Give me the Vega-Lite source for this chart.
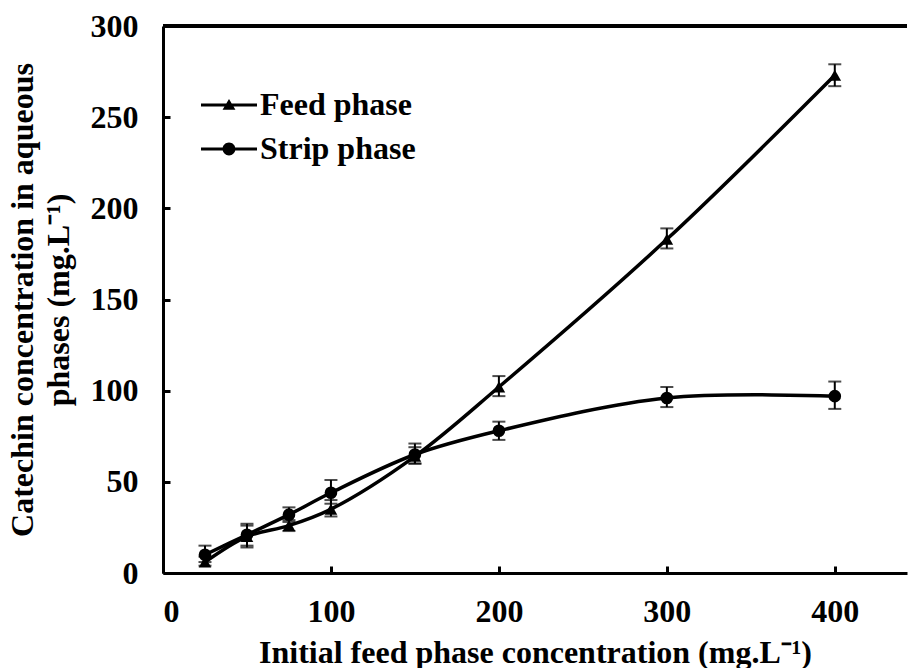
{
  "$schema": "https://vega.github.io/schema/vega-lite/v6.json",
  "width": 744,
  "height": 547,
  "padding": {"left": 5, "top": 10, "right": 0, "bottom": 0},
  "background": "white",
  "config": {
    "view": {"stroke": null},
    "font": "Liberation Serif",
    "axis": {
      "grid": false,
      "domainColor": "black",
      "domainWidth": 3,
      "tickColor": "black",
      "tickWidth": 3,
      "tickSize": -7,
      "labelFont": "Liberation Serif",
      "labelFontWeight": "bold",
      "labelFontSize": 32,
      "labelColor": "black",
      "titleFont": "Liberation Serif",
      "titleFontWeight": "bold",
      "titleFontSize": 32,
      "titleColor": "black"
    }
  },
  "data": {
    "values": [
      {"series": "Feed phase", "x": 25, "y": 6, "lo": 4, "hi": 9},
      {"series": "Feed phase", "x": 50, "y": 20, "lo": 14, "hi": 26},
      {"series": "Feed phase", "x": 75, "y": 26, "lo": 23, "hi": 29},
      {"series": "Feed phase", "x": 100, "y": 35, "lo": 31, "hi": 40},
      {"series": "Feed phase", "x": 150, "y": 64, "lo": 60, "hi": 69},
      {"series": "Feed phase", "x": 200, "y": 102, "lo": 97, "hi": 108},
      {"series": "Feed phase", "x": 300, "y": 183, "lo": 178, "hi": 189},
      {"series": "Feed phase", "x": 400, "y": 273, "lo": 267, "hi": 279},
      {"series": "Strip phase", "x": 25, "y": 10, "lo": 6, "hi": 15},
      {"series": "Strip phase", "x": 50, "y": 21, "lo": 15, "hi": 27},
      {"series": "Strip phase", "x": 75, "y": 32, "lo": 28, "hi": 36},
      {"series": "Strip phase", "x": 100, "y": 44, "lo": 38, "hi": 51},
      {"series": "Strip phase", "x": 150, "y": 65, "lo": 60, "hi": 71},
      {"series": "Strip phase", "x": 200, "y": 78, "lo": 73, "hi": 83},
      {"series": "Strip phase", "x": 300, "y": 96, "lo": 91, "hi": 102},
      {"series": "Strip phase", "x": 400, "y": 97, "lo": 90, "hi": 105}
    ]
  },
  "resolve": {"scale": {"shape": "independent"}, "legend": {"shape": "independent"}},
  "layer": [
    {
      "mark": {"type": "rule", "color": "black", "strokeWidth": 3},
      "encoding": {"y": {"datum": 300, "type": "quantitative"}}
    },
    {
      "mark": {"type": "line", "color": "black", "strokeWidth": 3.5, "interpolate": "catmull-rom"},
      "encoding": {
        "x": {
          "field": "x", "type": "quantitative",
          "scale": {"domain": [0, 443], "nice": false},
          "axis": {"values": [0, 100, 200, 300, 400], "labelPadding": 30, "title": "Initial feed phase concentration (mg.L⁻¹)", "titlePadding": 10}
        },
        "y": {
          "field": "y", "type": "quantitative",
          "scale": {"domain": [0, 300], "nice": false},
          "axis": {"values": [0, 50, 100, 150, 200, 250, 300], "labelPadding": 32, "title": ["Catechin concentration in aqueous", "phases (mg.L⁻¹)"], "titlePadding": 15, "titleLineHeight": 36}
        },
        "detail": {"field": "series"}
      }
    },
    {
      "mark": {"type": "rule", "color": "black", "strokeWidth": 2},
      "encoding": {
        "x": {"field": "x", "type": "quantitative"},
        "y": {"field": "lo", "type": "quantitative"},
        "y2": {"field": "hi"}
      }
    },
    {
      "mark": {"type": "tick", "color": "black", "thickness": 2, "size": 13, "orient": "horizontal"},
      "encoding": {
        "x": {"field": "x", "type": "quantitative"},
        "y": {"field": "lo", "type": "quantitative"}
      }
    },
    {
      "mark": {"type": "tick", "color": "black", "thickness": 2, "size": 13, "orient": "horizontal"},
      "encoding": {
        "x": {"field": "x", "type": "quantitative"},
        "y": {"field": "hi", "type": "quantitative"}
      }
    },
    {
      "mark": {"type": "point", "filled": true, "color": "black", "opacity": 1, "size": 160},
      "encoding": {
        "x": {"field": "x", "type": "quantitative"},
        "y": {"field": "y", "type": "quantitative"},
        "shape": {
          "field": "series", "type": "nominal",
          "scale": {"domain": ["Feed phase", "Strip phase"], "range": ["triangle-up", "circle"]},
          "legend": null
        }
      }
    },
    {
      "transform": [{"filter": "datum.x < 0"}],
      "mark": {"type": "point", "filled": true, "color": "black", "opacity": 1},
      "encoding": {
        "x": {"field": "x", "type": "quantitative"},
        "y": {"field": "y", "type": "quantitative"},
        "shape": {
          "field": "series", "type": "nominal",
          "scale": {"domain": ["Feed phase", "Strip phase"], "range": ["M-1,-0.055H1V0.055H-1ZM0,-0.21L0.23,0.17L-0.23,0.17Z", "M-0.23,0A0.23,0.23 0 1,1 0.23,0A0.23,0.23 0 1,1 -0.23,0ZM-1,-0.055H1V0.055H-1Z"]},
          "legend": {
            "title": null,
            "orient": "none",
            "legendX": 38,
            "legendY": 51,
            "padding": 0,
            "symbolSize": 3136,
            "symbolFillColor": "black",
            "symbolStrokeWidth": 0,
            "symbolOpacity": 1,
            "labelFont": "Liberation Serif",
            "labelFontWeight": "bold",
            "labelFontSize": 32,
            "labelColor": "black",
            "labelOffset": 3,
            "rowPadding": -3,
            "labelLimit": 400
          }
        }
      }
    }
  ]
}
